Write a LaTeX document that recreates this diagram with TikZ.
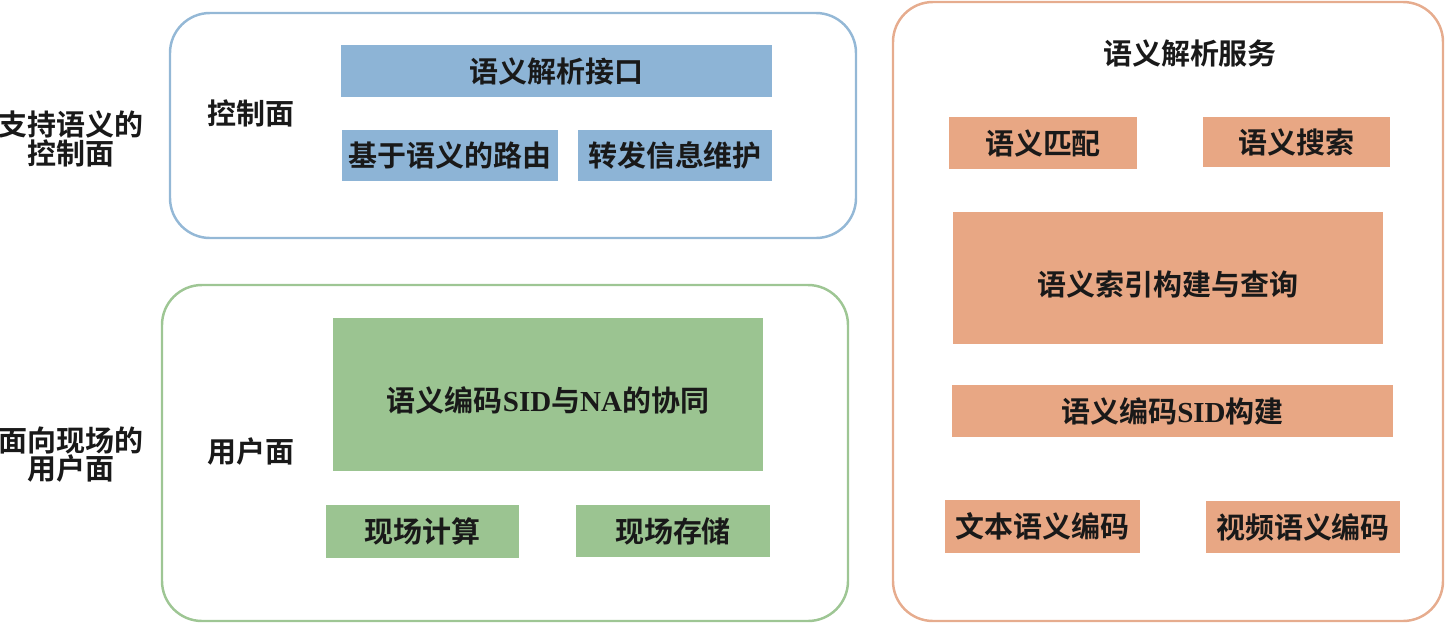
\documentclass[tikz,border=0pt]{standalone}
\usepackage{fontspec}
\setmainfont{Noto Sans CJK SC}[BoldFont={* Bold}]
\newfontfamily\latin{Liberation Serif}
\usepackage{tikz}
\usetikzlibrary{positioning}
\definecolor{cblue}{RGB}{141, 180, 214}
\definecolor{cbline}{RGB}{148, 184, 214}
\definecolor{cgreen}{RGB}{155, 196, 145}
\definecolor{cgline}{RGB}{158, 198, 148}
\definecolor{corange}{RGB}{232, 167, 132}
\definecolor{coline}{RGB}{230, 172, 142}
\tikzset{frame/.style = {line width=1.4pt, rounded corners=0.8cm},
         lbl/.style = {font=\fontsize{16.5}{19}\selectfont\bfseries, text=black!90, inner sep=0pt},
         side/.style = {lbl, align=center, font=\fontsize{16.5}{16}\selectfont\bfseries}}

\begin{document}
\begin{tikzpicture}[x=0.02cm, y=-0.02cm]
      \useasboundingbox (0, 0) rectangle (1445, 623);

      % control plane
      \draw [frame, cbline] (170, 13) rectangle (856, 238);
      \node [side] (ctrlside) at (71, 139) {支持语义的\\控制面};
      \node [lbl] (ctrl) at (251, 113) {控制面};
      \fill [cblue] (341, 45) rectangle (772, 97);
      \node [lbl] (api) at (556.5, 71) {语义解析接口};
      \fill [cblue] (342, 130) rectangle (558, 181);
      \node [lbl] (route) at (450, 155.5) {基于语义的路由};
      \fill [cblue] (578, 130) rectangle (772, 181);
      \node [lbl] (fwd) at (675, 155.5) {转发信息维护};

      % user plane
      \draw [frame, cgline] (162, 285) rectangle (848, 621);
      \node [side] (userside) at (71, 455) {面向现场的\\用户面};
      \node [lbl] (user) at (251, 452) {用户面};
      \fill [cgreen] (333, 318) rectangle (763, 471);
      \node [lbl] (coop) at (548, 400) {语义编码{\latin SID}与{\latin NA}的协同};
      \fill [cgreen] (326, 505) rectangle (519, 558);
      \node [lbl] (comp) at (422.5, 531.5) {现场计算};
      \fill [cgreen] (576, 505) rectangle (770, 557);
      \node [lbl] (store) at (673, 531) {现场存储};

      % semantic service
      \draw [frame, coline] (893, 2) rectangle (1443, 621);
      \node [lbl] (svc) at (1190, 53) {语义解析服务};
      \fill [corange] (949, 117) rectangle (1137, 169);
      \node [lbl] (match) at (1043, 143) {语义匹配};
      \fill [corange] (1203, 117) rectangle (1390, 167);
      \node [lbl] (search) at (1296.5, 142) {语义搜索};
      \fill [corange] (953, 212) rectangle (1383, 344);
      \node [lbl] (index) at (1168, 284) {语义索引构建与查询};
      \fill [corange] (952, 385) rectangle (1393, 437);
      \node [lbl] (sid) at (1172.5, 411) {语义编码{\latin SID}构建};
      \fill [corange] (945, 500) rectangle (1140, 553);
      \node [lbl] (text) at (1042.5, 526.5) {文本语义编码};
      \fill [corange] (1206, 501) rectangle (1400, 553);
      \node [lbl] (video) at (1303, 527) {视频语义编码};
\end{tikzpicture}
\end{document}
